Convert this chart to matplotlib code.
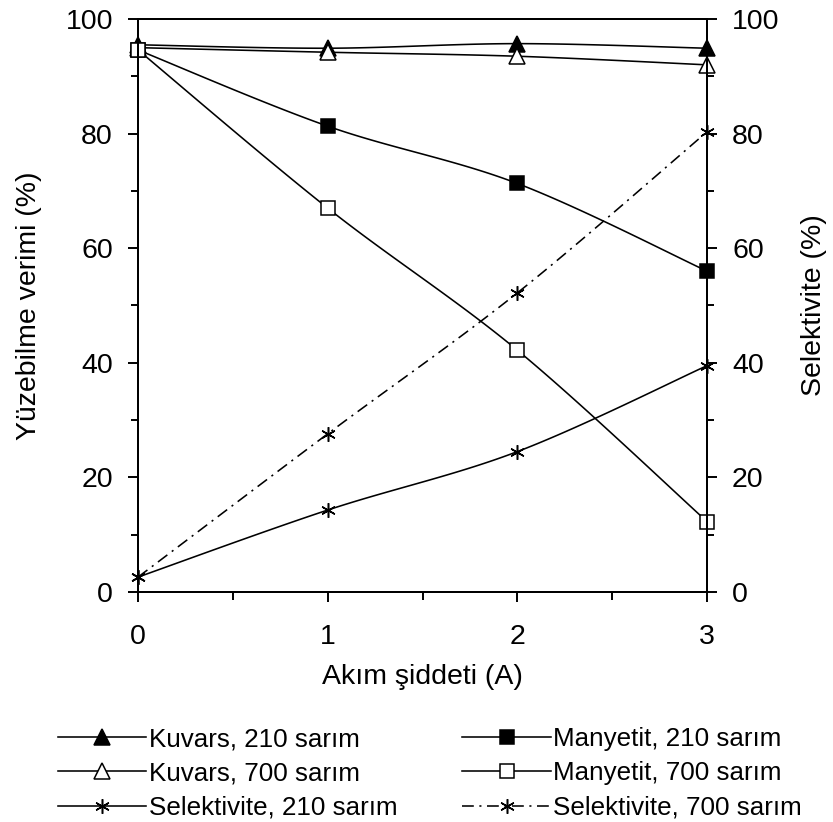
import numpy as np
import matplotlib
matplotlib.use("Agg")
import matplotlib.pyplot as plt
from matplotlib.ticker import MultipleLocator

plt.rcParams["font.family"] = ["Liberation Sans", "DejaVu Sans"]
plt.rcParams["lines.scale_dashes"] = False

# Current (A)
current = [0, 1, 2, 3]

# Recovery (%) - left axis
kuvars_210 = [95.5, 94.9, 95.7, 94.9]
kuvars_700 = [95.0, 94.2, 93.5, 92.0]
manyetit_210 = [94.6, 81.3, 71.3, 56.0]
manyetit_700 = [94.6, 67.0, 42.2, 12.3]

# Selectivity (%) - right axis
selektivite_210 = [2.6, 14.3, 24.5, 39.5]
selektivite_700 = [2.6, 27.6, 52.2, 80.3]

labels = ["Kuvars, 210 sarım", "Kuvars, 700 sarım", "Selektivite, 210 sarım",
          "Manyetit, 210 sarım", "Manyetit, 700 sarım", "Selektivite, 700 sarım"]


def smooth(x, y, n=40):
    """Cubic Bezier smoothing through the points (spreadsheet-style smoothed line)."""
    P = np.column_stack([x, y]).astype(float)
    m = len(P)
    out = [P[0]]
    for i in range(m - 1):
        p0, p3 = P[i], P[i + 1]
        prev = P[i - 1] if i > 0 else P[i]
        nxt = P[i + 2] if i + 2 < m else P[i + 1]
        c1 = p0 + (p3 - prev) / 6.0
        c2 = p3 - (nxt - p0) / 6.0
        t = np.linspace(0, 1, n + 1)[1:, None]
        seg = ((1 - t) ** 3) * p0 + 3 * ((1 - t) ** 2) * t * c1 + 3 * (1 - t) * t ** 2 * c2 + t ** 3 * p3
        out.extend(seg)
    out = np.array(out)
    marks = [i * n for i in range(m)]
    return out[:, 0], out[:, 1], marks


W, H = 833, 822
fig = plt.figure(figsize=(W / 100, H / 100), dpi=100)
ax = fig.add_axes([138 / W, 1 - 592 / H, (707 - 138) / W, (592 - 19) / H])
ax2 = ax.twinx()

lw = 1.15
common = dict(color="black", lw=lw, clip_on=False, markeredgewidth=1.1,
              markeredgecolor="black")

handles = {}


def draw(axis, y, key, **kw):
    sx, sy, marks = smooth(current, y)
    opts = dict(common)
    opts.update(kw)
    (ln,) = axis.plot(sx, sy, markevery=marks, **opts)
    handles[key] = ln


draw(ax, kuvars_210, labels[0], marker="^", ms=11, markerfacecolor="black")
draw(ax, kuvars_700, labels[1], marker="^", ms=11, markerfacecolor="white")
draw(ax, manyetit_210, labels[3], marker="s", ms=10, markerfacecolor="black")
draw(ax, manyetit_700, labels[4], marker="s", ms=10, markerfacecolor="white")
draw(ax2, selektivite_210, labels[2], marker=(6, 2, 0), ms=10.5)
draw(ax2, selektivite_700, labels[5], marker=(6, 2, 0), ms=10.5,
     linestyle=(0, (8.5, 4.0, 1.5, 4.0)))

fs = 20.5
for a in (ax, ax2):
    a.set_xlim(0, 3)
    a.set_ylim(0, 100)
    a.yaxis.set_major_locator(MultipleLocator(20))
    a.yaxis.set_minor_locator(MultipleLocator(10))
    for s in a.spines.values():
        s.set_linewidth(1.4)

ax.xaxis.set_major_locator(MultipleLocator(1))
ax.xaxis.set_minor_locator(MultipleLocator(0.5))
ax.tick_params(axis="both", which="major", direction="out", length=7, width=1.4,
               labelsize=fs)
ax.tick_params(axis="both", which="minor", direction="out", length=5, width=1.4)
ax.tick_params(axis="y", which="major", pad=11)
ax.tick_params(axis="x", which="major", pad=16)
ax.tick_params(axis="x", which="minor", length=6)
ax2.tick_params(axis="y", which="major", direction="out", length=7, width=1.4,
                labelsize=fs, pad=11)
ax2.tick_params(axis="y", which="minor", direction="out", length=5, width=1.4)

ax.set_xlabel("Akım şiddeti (A)", fontsize=fs)
ax.set_ylabel("Yüzebilme verimi (%)", fontsize=fs)
ax2.set_ylabel("Selektivite (%)", fontsize=fs, rotation=90)
ax.yaxis.set_label_coords(-0.168, 0.5)
ax2.yaxis.set_label_coords(1.166, 0.5)
ax.xaxis.set_label_coords(0.5, -0.126)

leg = fig.legend([handles[k] for k in labels], labels, ncol=2, loc="upper left",
                 bbox_to_anchor=(58 / W, 1 - 727 / H), frameon=False,
                 fontsize=18.7, handlelength=3.4, handletextpad=0.1,
                 columnspacing=2.5, labelspacing=0.4, borderaxespad=0,
                 borderpad=0, numpoints=1)

fig.savefig("out.png", dpi=100)
